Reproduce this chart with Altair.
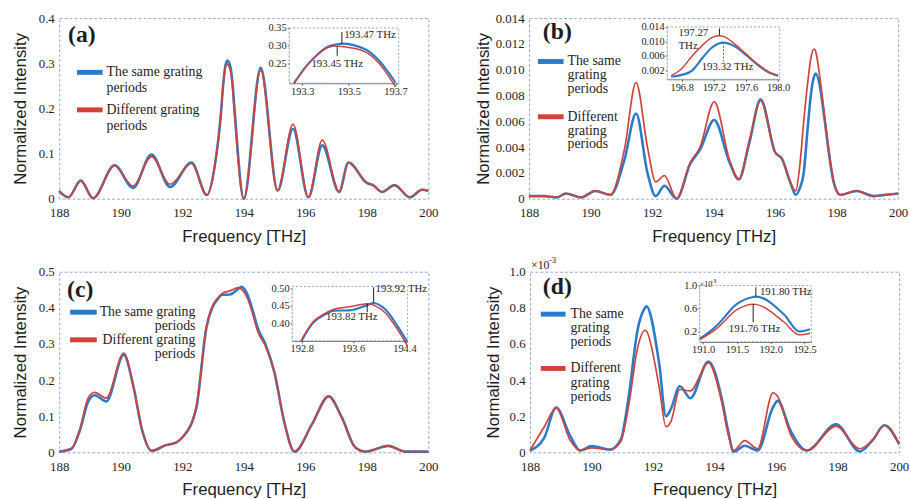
import altair as alt
import pandas as pd

BLUE = "#2b7bcb"
RED = "#d0433a"
INK = "#1e1e1e"
SERIF = "'Liberation Serif', 'Times New Roman', 'DejaVu Serif', serif"
SANS = "'Liberation Sans', Arial, 'DejaVu Sans', sans-serif"
W, H = 374, 183
SERIES = ["The same grating periods", "Different grating periods"]

# ---------------- data ----------------
a_freq = [188.0, 188.3, 188.7, 189.1, 189.8, 190.4, 191.0, 191.6, 192.3, 192.8, 193.05, 193.265, 193.32, 193.36,
          193.41, 193.45, 193.47, 193.57, 193.63, 193.7, 194.0, 194.55, 195.1, 195.6, 196.1, 196.55, 197.1, 197.4,
          198.0, 198.2, 198.5, 198.9, 199.4, 199.8, 200.0]
a_same = [0.017, 0.003, 0.040, 0.001, 0.074, 0.024, 0.098, 0.026, 0.080, 0.008, 0.070, 0.195, 0.245, 0.272,
          0.297, 0.304, 0.306, 0.290, 0.258, 0.197, 0.0, 0.290, 0.018, 0.155, 0.003, 0.118, 0.015, 0.080,
          0.035, 0.030, 0.015, 0.030, 0.003, 0.020, 0.017]
a_diff = [0.017, 0.003, 0.040, 0.001, 0.073, 0.028, 0.093, 0.032, 0.078, 0.008, 0.070, 0.195, 0.245, 0.272,
          0.295, 0.299, 0.298, 0.283, 0.250, 0.185, 0.0, 0.284, 0.018, 0.165, 0.003, 0.130, 0.015, 0.080,
          0.035, 0.030, 0.015, 0.030, 0.003, 0.020, 0.017]

b_freq = [188.0, 188.5, 188.9, 189.2, 189.7, 190.15, 190.65, 191.1, 191.48, 191.85, 192.12, 192.4, 192.8, 193.24,
          193.56, 194.02, 194.52, 194.82, 195.16, 195.53, 196.0, 196.22, 196.49, 196.67, 196.8, 196.93, 197.06,
          197.17, 197.27, 197.32, 197.45, 197.6, 197.75, 197.9, 198.0, 198.12, 198.65, 199.2, 199.6, 200.0]
b_same = [0.0002, 0.0002, 0.0001, 0.0004, 0.0001, 0.0006, 0.0003, 0.0030, 0.0066, 0.0020, 0.0002, 0.0010, 0.0000,
          0.0027, 0.0038, 0.0061, 0.0028, 0.0015, 0.0043, 0.0077, 0.0036, 0.0031, 0.0013, 0.0003, 0.0008, 0.0020,
          0.0055, 0.0082, 0.0095, 0.0097, 0.0088, 0.0063, 0.0035, 0.0013, 0.0006, 0.0003, 0.0006, 0.0002, 0.0003,
          0.0004]
b_diff = [0.0002, 0.0002, 0.0001, 0.0004, 0.0001, 0.0006, 0.0003, 0.0038, 0.0090, 0.0040, 0.0013, 0.0018, 0.0000,
          0.0028, 0.0040, 0.0075, 0.0030, 0.0015, 0.0045, 0.0076, 0.0036, 0.0031, 0.0013, 0.0006, 0.0025, 0.0060,
          0.0090, 0.0110, 0.0116, 0.0114, 0.0095, 0.0066, 0.0037, 0.0014, 0.0006, 0.0003, 0.0006, 0.0002, 0.0003,
          0.0004]

c_freq = [188.0, 188.4, 188.67, 188.94, 189.15, 189.53, 190.1, 190.4, 190.7, 191.0, 191.47, 191.8, 192.0, 192.45,
          192.79, 192.98, 193.14, 193.3, 193.55, 193.82, 193.92, 194.1, 194.3, 194.45, 194.7, 195.0, 195.3, 195.65,
          196.22, 196.76, 197.19, 197.62, 197.95, 198.7, 199.24, 200.0]
c_same = [0.002, 0.010, 0.060, 0.140, 0.158, 0.141, 0.270, 0.187, 0.060, 0.004, 0.020, 0.027, 0.041, 0.120,
          0.348, 0.402, 0.423, 0.436, 0.437, 0.452, 0.458, 0.440, 0.390, 0.345, 0.300, 0.220, 0.090, 0.002,
          0.078, 0.155, 0.096, 0.014, 0.002, 0.018, 0.002, 0.002]
c_diff = [0.002, 0.010, 0.065, 0.150, 0.166, 0.150, 0.275, 0.187, 0.060, 0.004, 0.020, 0.027, 0.041, 0.125,
          0.350, 0.405, 0.426, 0.440, 0.447, 0.456, 0.452, 0.430, 0.380, 0.335, 0.295, 0.220, 0.090, 0.002,
          0.078, 0.155, 0.096, 0.014, 0.002, 0.018, 0.002, 0.002]

# panel (d) values are in units of 1e-3
d_freq = [188.0, 188.46, 188.85, 189.31, 189.63, 190.0, 190.6, 190.95, 191.2, 191.5, 191.74, 191.78, 192.2, 192.42,
          192.58, 192.87, 193.21, 193.8, 194.23, 194.44, 194.62, 194.98, 195.4, 195.9, 196.05, 196.47, 197.0,
          197.95, 198.72, 199.15, 199.52, 200.0]
d_same = [0.010, 0.080, 0.248, 0.090, 0.010, 0.035, 0.015, 0.070, 0.300, 0.680, 0.800, 0.808, 0.490, 0.200,
          0.240, 0.366, 0.300, 0.503, 0.300, 0.120, 0.004, 0.037, 0.010, 0.250, 0.285, 0.120, 0.010, 0.155,
          0.005, 0.070, 0.150, 0.045]
d_diff = [0.010, 0.140, 0.245, 0.065, 0.010, 0.025, 0.015, 0.060, 0.250, 0.580, 0.676, 0.672, 0.360, 0.142,
          0.170, 0.348, 0.340, 0.495, 0.280, 0.100, 0.010, 0.065, 0.020, 0.330, 0.310, 0.100, 0.010, 0.145,
          0.020, 0.070, 0.150, 0.045]

x_ticks = [188, 190, 192, 194, 196, 198, 200]

ONE = pd.DataFrame({"k": [0]})


def txt(s, x, y, size, font=SERIF, align="left", weight="normal", color=INK, baseline="middle"):
    return alt.Chart(ONE).mark_text(text=s, font=font, fontSize=size, align=align, baseline=baseline,
                                    fontWeight=weight, color=color).encode(x=alt.value(x), y=alt.value(y))


def swatch(color, x0, x1, y):
    return alt.Chart(ONE).mark_rule(color=color, strokeWidth=5).encode(
        x=alt.value(x0), x2=alt.value(x1), y=alt.value(y))


def make_panel(p):
    xs = alt.Scale(domain=[188, 200], nice=False, zero=False)
    ys = alt.Scale(domain=p["ydom"], nice=False, zero=False)
    xaxis = alt.Axis(values=x_ticks, format="d", labelFont=SERIF, labelFontSize=13, labelColor=INK,
                     domain=False, ticks=False, grid=False, labelPadding=8, labelFlush=False,
                     title="Frequency [THz]", titleFont=SANS, titleFontSize=17, titleFontWeight="normal",
                     titleColor=INK, titlePadding=9)
    yaxis = alt.Axis(values=p["yticks"], labelExpr=p["ylabel"], labelFont=SERIF, labelFontSize=13,
                     labelColor=INK, domain=False, ticks=False, grid=False, labelPadding=5, labelFlush=False,
                     title="Normalized Intensity", titleFont=SANS, titleFontSize=17, titleFontWeight="normal",
                     titleColor=INK, titleX=p["titleX"], titleBaseline="middle")
    same = pd.DataFrame({"freq": p["freq"], "value": p["same"], "series": SERIES[0]})
    diff = pd.DataFrame({"freq": p["freq"], "value": p["diff"], "series": SERIES[1]})

    def line(df, color, sw, xsc, ysc, xa, ya):
        return alt.Chart(df).mark_line(color=color, strokeWidth=sw, interpolate="monotone",
                                       strokeJoin="round").encode(
            x=alt.X("freq:Q", scale=xsc, axis=xa), y=alt.Y("value:Q", scale=ysc, axis=ya))

    main_layers = [line(same, BLUE, 2.6, xs, ys, xaxis, yaxis), line(diff, RED, 1.7, xs, ys, xaxis, yaxis)]
    lg = p["legend"]
    main_layers.append(swatch(BLUE, lg["sx"][0], lg["sx"][1], lg["y1"][0]))
    main_layers.append(swatch(RED, lg["sx"][0], lg["sx"][1], lg["y2"][0]))
    for s, yy in zip(lg["t1"], lg["y1"]):
        main_layers.append(txt(s, lg["tx"], yy, 14, align=lg["align"]))
    for s, yy in zip(lg["t2"], lg["y2"]):
        main_layers.append(txt(s, lg["tx"], yy, 14, align=lg["align"]))
    main_layers.append(txt(p["label"], p["label_xy"][0], p["label_xy"][1], 24, weight="bold",
                           baseline="alphabetic"))
    for extra in p.get("extra", []):
        main_layers.append(txt(*extra))
    main = alt.layer(*main_layers)

    ins = p["inset"]
    ixs = alt.Scale(domain=ins["xdom"], range=ins["xr"], nice=False, zero=False)
    iys = alt.Scale(domain=ins["ydom"], range=[ins["yr"][1], ins["yr"][0]], nice=False, zero=False)
    ixa = alt.Axis(orient="bottom", offset=ins["yr"][1] - H, values=ins["xticks"], format=".1f",
                   labelFont=SERIF, labelFontSize=10.5, labelColor=INK, domainColor="#555", tickColor="#555",
                   tickSize=2, labelPadding=1, grid=False, labelFlush=False, labelOverlap=False, title=None)
    iya = alt.Axis(orient="left", offset=-ins["xr"][0], values=ins["yticks"], format=ins["yfmt"],
                   labelFont=SERIF, labelFontSize=10.5, labelColor=INK, domainColor="#555", tickColor="#555",
                   tickSize=2, labelPadding=1, grid=False, labelFlush=False, labelOverlap=False, title=None)
    lo, hi = ins["xdom"]
    same_in = same[(same.freq >= lo) & (same.freq <= hi)]
    diff_in = diff[(diff.freq >= lo) & (diff.freq <= hi)]
    box = alt.Chart(ONE).mark_rect(fill="white", stroke="#8fa3c2", strokeDash=[2, 2], strokeWidth=1).encode(
        x=alt.value(ins["xr"][0]), x2=alt.value(ins["xr"][1]), y=alt.value(ins["yr"][0]),
        y2=alt.value(ins["yr"][1]))
    inset_layers = [box, line(same_in, BLUE, 2.2, ixs, iys, ixa, iya), line(diff_in, RED, 1.5, ixs, iys, ixa, iya)]
    for (rx, ry1, ry2, rc, dash) in ins["rules"]:
        rdf = pd.DataFrame({"freq": [rx], "value": [ry1], "value2": [ry2]})
        kw = {"strokeDash": [2, 1.5]} if dash else {}
        inset_layers.append(alt.Chart(rdf).mark_rule(color=rc, strokeWidth=1, **kw).encode(
            x=alt.X("freq:Q", scale=ixs, axis=ixa), y=alt.Y("value:Q", scale=iys, axis=iya), y2="value2:Q"))
    for (s, tx, ty, al) in ins["texts"]:
        tdf = pd.DataFrame({"freq": [tx], "value": [ty], "t": [s]})
        inset_layers.append(alt.Chart(tdf).mark_text(font=SERIF, fontSize=11, align=al, baseline="middle",
                                                     color=INK).encode(
            x=alt.X("freq:Q", scale=ixs, axis=ixa), y=alt.Y("value:Q", scale=iys, axis=iya), text="t:N"))
    for extra in ins.get("extra", []):
        inset_layers.append(txt(*extra))
    inset = alt.layer(*inset_layers)
    return alt.layer(main, inset).resolve_scale(x="independent", y="independent").properties(width=W, height=H)


panel_a = make_panel(dict(
    freq=a_freq, same=a_same, diff=a_diff, ydom=[0, 0.4], yticks=[0, 0.1, 0.2, 0.3, 0.4],
    ylabel="datum.value == 0 ? '0' : format(datum.value, '.1f')", titleX=-39,
    label="(a)", label_xy=(9, 24),
    legend=dict(sx=(18, 44), tx=48, align="left", t1=["The same grating", "periods"], y1=[55, 71],
                t2=["Different grating", "periods"], y2=[93, 109]),
    inset=dict(xdom=[193.244, 193.714], xr=[233, 344], ydom=[0.195, 0.35], yr=[10, 66],
               xticks=[193.3, 193.5, 193.7], yticks=[0.25, 0.30, 0.35], yfmt=".2f",
               rules=[(193.47, 0.338, 0.306, INK, False), (193.45, 0.298, 0.272, INK, False)],
               texts=[("193.47 THz", 193.48, 0.330, "left"), ("193.45 THz", 193.45, 0.250, "center")]),
))

panel_b = make_panel(dict(
    freq=b_freq, same=b_same, diff=b_diff, ydom=[0, 0.014],
    yticks=[0, 0.002, 0.004, 0.006, 0.008, 0.010, 0.012, 0.014],
    ylabel="datum.value == 0 ? '0' : format(datum.value, '.3f')", titleX=-46,
    label="(b)", label_xy=(14, 21),
    legend=dict(sx=(9, 35), tx=39, align="left", t1=["The same", "grating", "periods"], y1=[44, 58, 72],
                t2=["Different", "grating", "periods"], y2=[100, 114, 128]),
    inset=dict(xdom=[196.62, 198.02], xr=[140, 254], ydom=[-0.0004, 0.014], yr=[9, 62],
               xticks=[196.8, 197.2, 197.6, 198.0], yticks=[0.002, 0.006, 0.010, 0.014], yfmt=".3f",
               rules=[(197.27, 0.0136, 0.0117, INK, False), (197.32, 0.0097, 0.0045, BLUE, True)],
               texts=[("197.27", 196.76, 0.0124, "left"), ("THz", 196.76, 0.0088, "left"),
                      ("193.32 THz", 197.37, 0.0029, "center")]),
))

panel_c = make_panel(dict(
    freq=c_freq, same=c_same, diff=c_diff, ydom=[0, 0.5], yticks=[0, 0.1, 0.2, 0.3, 0.4, 0.5],
    ylabel="datum.value == 0 ? '0' : format(datum.value, '.1f')", titleX=-39,
    label="(c)", label_xy=(8, 26),
    legend=dict(sx=(11, 38), tx=138, align="right", t1=["The same grating", "periods"], y1=[41, 55],
                t2=["Different grating", "periods"], y2=[69, 83]),
    inset=dict(xdom=[192.65, 194.45], xr=[236, 353], ydom=[0.35, 0.505], yr=[15, 70],
               xticks=[192.8, 193.6, 194.4], yticks=[0.40, 0.45, 0.50], yfmt=".2f",
               rules=[(193.92, 0.503, 0.459, INK, False), (193.82, 0.456, 0.432, INK, False)],
               texts=[("193.92 THz", 193.95, 0.497, "left"), ("193.82 THz", 193.58, 0.418, "center")]),
))

panel_d = make_panel(dict(
    freq=d_freq, same=d_same, diff=d_diff, ydom=[0, 1.0], yticks=[0, 0.2, 0.4, 0.6, 0.8, 1.0],
    ylabel="datum.value == 0 ? '0' : format(datum.value, '.1f')", titleX=-37,
    label="(d)", label_xy=(13, 23),
    legend=dict(sx=(11, 36), tx=41, align="left", t1=["The same", "grating", "periods"], y1=[43, 57, 71],
                t2=["Different", "grating", "periods"], y2=[98, 113, 127]),
    extra=[("×10", 1, -3, 12, SERIF, "left", "normal", INK, "alphabetic"),
           ("-3", 19, -9, 9, SERIF, "left", "normal", INK, "alphabetic")],
    inset=dict(xdom=[190.95, 192.6], xr=[172, 285], ydom=[0.02, 1.0], yr=[14, 71],
               xticks=[191.0, 191.5, 192.0, 192.5], yticks=[0.2, 0.6, 1.0], yfmt=".1f",
               rules=[(191.78, 0.97, 0.81, INK, False), (191.74, 0.676, 0.36, INK, False)],
               texts=[("191.80 THz", 191.84, 0.88, "left"), ("191.76 THz", 191.76, 0.25, "center")],
               extra=[("×10", 172, 15, 8, SERIF, "left", "normal", INK, "alphabetic"),
                      ("-3", 183, 11, 7, SERIF, "left", "normal", INK, "alphabetic")]),
))

row1 = alt.hconcat(panel_a, panel_b, spacing=35)
row2 = alt.hconcat(panel_c, panel_d, spacing=45)
chart = alt.vconcat(row1, row2, spacing=10).properties(
    padding={"left": 11, "top": 8, "right": 0, "bottom": 0}, background="white"
).configure_view(stroke="#94a9c9", strokeDash=[3, 2], strokeWidth=1)

chart.save("out.html", embed_options={"renderer": "svg", "actions": False})
